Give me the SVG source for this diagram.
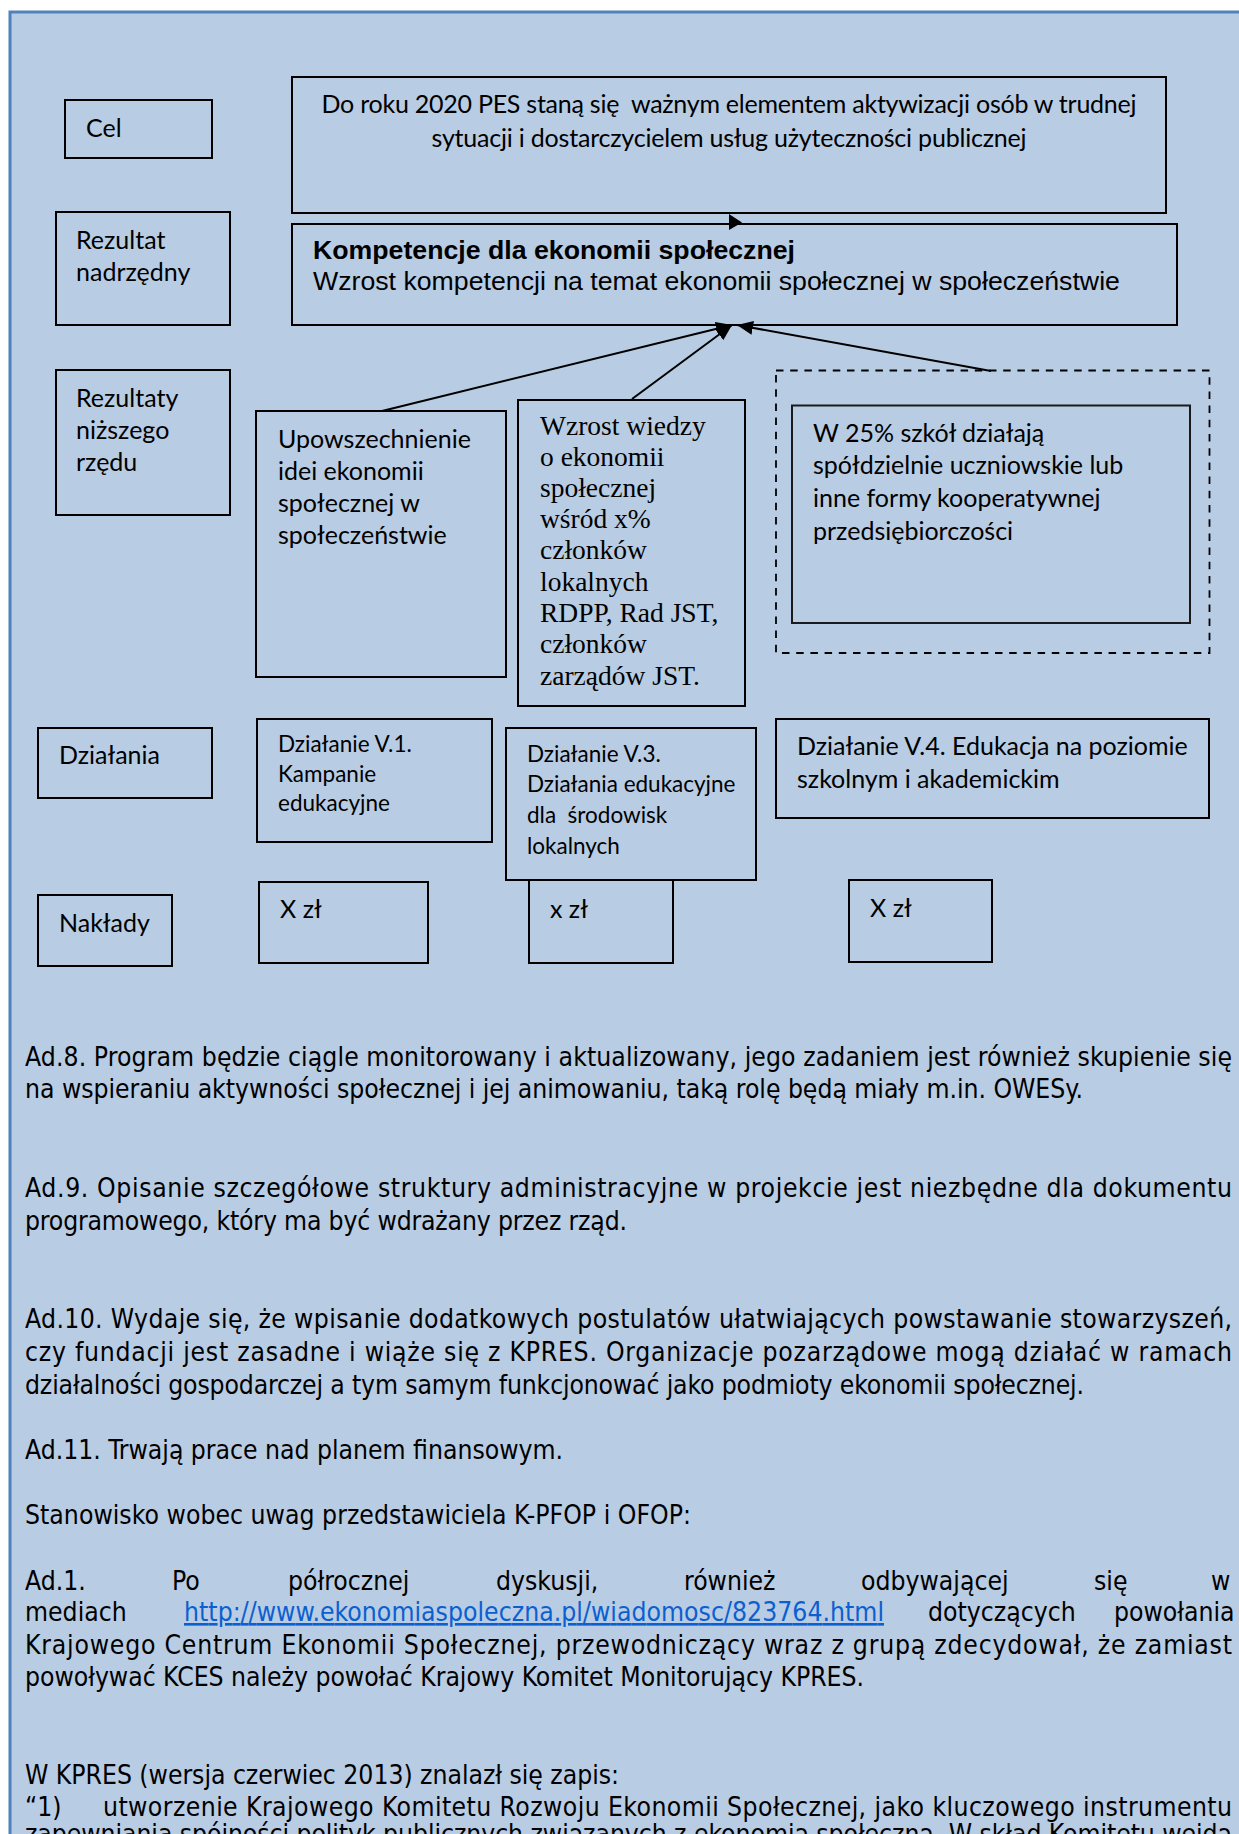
<svg xmlns="http://www.w3.org/2000/svg" width="1239" height="1834" viewBox="0 0 1239 1834">
<style>
.bx{fill:none;stroke:#000;stroke-width:2}
.c{font-family:Lato,"Open Sans","Liberation Sans",sans-serif;font-size:25px;fill:#000}
.cs{font-family:Lato,"Open Sans","Liberation Sans",sans-serif;font-size:22.5px;fill:#000}
.a{font-family:"Liberation Sans",Arial,sans-serif;font-size:26.7px;fill:#000}
.ab{font-family:"Liberation Sans",Arial,sans-serif;font-size:26.7px;font-weight:bold;fill:#000}
.s{font-family:"Liberation Serif","Times New Roman",serif;font-size:27.5px;fill:#000}
.p{font-family:"DejaVu Sans Condensed","DejaVu Sans",sans-serif;font-stretch:condensed;font-size:26.3px;fill:#000}
.lnk{fill:#0b5fd0;text-decoration:underline}
.cn{stroke:#000;stroke-width:2;fill:none}
</style>
<defs>
<marker id="ah" markerUnits="userSpaceOnUse" markerWidth="17" markerHeight="14" refX="16" refY="7" orient="auto">
<path d="M0,0 L16,7 L0,14 z" fill="#000"/>
</marker>
</defs>
<rect x="10" y="12" width="1240" height="1840" fill="#b8cce4" stroke="#4f81bd" stroke-width="3"/>

<g id="cel">
<rect class="bx" x="65" y="100" width="147" height="58"/>
<text class="c" x="86" y="137">Cel</text>
</g>
<g id="goal">
<rect class="bx" x="292" y="77" width="874" height="136"/>
<text class="c" x="729" y="113" text-anchor="middle" xml:space="preserve" textLength="815">Do roku 2020 PES staną się  ważnym elementem aktywizacji osób w trudnej</text>
<text class="c" x="729" y="147" text-anchor="middle" textLength="595">sytuacji i dostarczycielem usług użyteczności publicznej</text>
</g>
<g id="rezultat-nadrzedny">
<rect class="bx" x="56" y="212" width="174" height="113"/>
<text class="c" x="76" y="249">Rezultat</text>
<text class="c" x="76" y="281">nadrzędny</text>
</g>
<g id="kompetencje">
<rect class="bx" x="292" y="224" width="885" height="101"/>
<text class="ab" x="313" y="259">Kompetencje dla ekonomii społecznej</text>
<text class="a" x="313" y="290">Wzrost kompetencji na temat ekonomii społecznej w społeczeństwie</text>
</g>
<g id="rezultaty-nizszego">
<rect class="bx" x="56" y="370" width="174" height="145"/>
<text class="c" x="76" y="407">Rezultaty</text>
<text class="c" x="76" y="439">niższego</text>
<text class="c" x="76" y="471">rzędu</text>
</g>
<g id="upowszechnienie">
<rect class="bx" x="256" y="411" width="250" height="266"/>
<text class="c" x="278" y="448">Upowszechnienie</text>
<text class="c" x="278" y="480">idei ekonomii</text>
<text class="c" x="278" y="512">społecznej w</text>
<text class="c" x="278" y="544">społeczeństwie</text>
</g>
<g id="wzrost-wiedzy">
<rect class="bx" x="518" y="400" width="227" height="306"/>
<text class="s" x="540" y="435">Wzrost wiedzy</text>
<text class="s" x="540" y="466">o ekonomii</text>
<text class="s" x="540" y="497">społecznej</text>
<text class="s" x="540" y="528">wśród x%</text>
<text class="s" x="540" y="559">członków</text>
<text class="s" x="540" y="591">lokalnych</text>
<text class="s" x="540" y="622">RDPP, Rad JST,</text>
<text class="s" x="540" y="653">członków</text>
<text class="s" x="540" y="685">zarządów JST.</text>
</g>
<g id="szkoly">
<rect x="776" y="370.5" width="433.5" height="282.5" fill="none" stroke="#000" stroke-width="1.8" stroke-dasharray="7.5,6.7"/>
<rect x="792" y="405.5" width="398" height="217.5" fill="none" stroke="#1a1a1a" stroke-width="2"/>
<text class="c" x="813" y="442">W 25% szkół działają</text>
<text class="c" x="813" y="474">spółdzielnie uczniowskie lub</text>
<text class="c" x="813" y="507">inne formy kooperatywnej</text>
<text class="c" x="813" y="540">przedsiębiorczości</text>
</g>
<g id="dzialania">
<rect class="bx" x="38" y="728" width="174" height="70"/>
<text class="c" x="59" y="764">Działania</text>
</g>
<g id="dzialanie-v1">
<rect class="bx" x="257" y="719" width="235" height="123"/>
<text class="cs" x="278" y="752">Działanie V.1.</text>
<text class="cs" x="278" y="782">Kampanie</text>
<text class="cs" x="278" y="811">edukacyjne</text>
</g>
<g id="dzialanie-v3">
<rect class="bx" x="506" y="728" width="250" height="152"/>
<text class="cs" x="527" y="762">Działanie V.3.</text>
<text class="cs" x="527" y="792">Działania edukacyjne</text>
<text class="cs" x="527" y="823" xml:space="preserve">dla  środowisk</text>
<text class="cs" x="527" y="854">lokalnych</text>
</g>
<g id="dzialanie-v4">
<rect class="bx" x="776" y="719" width="433" height="99"/>
<text class="c" x="797" y="755">Działanie V.4. Edukacja na poziomie</text>
<text class="c" x="797" y="788">szkolnym i akademickim</text>
</g>
<g id="naklady">
<rect class="bx" x="38" y="895" width="134" height="71"/>
<text class="c" x="59" y="932">Nakłady</text>
</g>
<g id="naklad-1">
<rect class="bx" x="259" y="882" width="169" height="81"/>
<text class="c" x="280" y="918">X zł</text>
</g>
<g id="naklad-2">
<rect class="bx" x="529" y="880" width="144" height="83"/>
<text class="c" x="550" y="918">x zł</text>
</g>
<g id="naklad-3">
<rect class="bx" x="849" y="880" width="143" height="82"/>
<text class="c" x="870" y="917">X zł</text>
</g>

<g id="connectors">
<line class="cn" x1="382" y1="411" x2="732" y2="325" marker-end="url(#ah)"/>
<line class="cn" x1="632" y1="399" x2="732" y2="325" marker-end="url(#ah)"/>
<line class="cn" x1="991" y1="371" x2="737" y2="325" marker-end="url(#ah)"/>
<polygon points="729,214 742,222.5 729,230" fill="#000"/>
</g>

<g id="text">
<text class="p" x="25" y="1066" textLength="1207">Ad.8. Program będzie ciągle monitorowany i aktualizowany, jego zadaniem jest również skupienie się</text>
<text class="p" x="25" y="1098" textLength="1058">na wspieraniu aktywności społecznej i jej animowaniu, taką rolę będą miały m.in. OWESy.</text>
<text class="p" x="25" y="1197" textLength="1207">Ad.9. Opisanie szczegółowe struktury administracyjne w projekcie jest niezbędne dla dokumentu</text>
<text class="p" x="25" y="1230" textLength="602">programowego, który ma być wdrażany przez rząd.</text>
<text class="p" x="25" y="1328" textLength="1207">Ad.10. Wydaje się, że wpisanie dodatkowych postulatów ułatwiających powstawanie stowarzyszeń,</text>
<text class="p" x="25" y="1361" textLength="1207">czy fundacji jest zasadne i wiąże się z KPRES. Organizacje pozarządowe mogą działać w ramach</text>
<text class="p" x="25" y="1394" textLength="1059">działalności gospodarczej a tym samym funkcjonować jako podmioty ekonomii społecznej.</text>
<text class="p" x="25" y="1459" textLength="538">Ad.11. Trwają prace nad planem finansowym.</text>
<text class="p" x="25" y="1524" textLength="666">Stanowisko wobec uwag przedstawiciela K-PFOP i OFOP:</text>
<text class="p" y="1590"><tspan x="25">Ad.1.</tspan><tspan x="172">Po</tspan><tspan x="288">półrocznej</tspan><tspan x="496">dyskusji,</tspan><tspan x="684">również</tspan><tspan x="861">odbywającej</tspan><tspan x="1094">się</tspan><tspan x="1211">w</tspan></text>
<text class="p" y="1621"><tspan x="25">mediach</tspan><tspan x="184" class="lnk" textLength="700">http://www.ekonomiaspoleczna.pl/wiadomosc/823764.html</tspan><tspan x="928">dotyczących</tspan><tspan x="1114">powołania</tspan></text>
<text class="p" x="25" y="1654" textLength="1207">Krajowego Centrum Ekonomii Społecznej, przewodniczący wraz z grupą zdecydował, że zamiast</text>
<text class="p" x="25" y="1686" textLength="839">powoływać KCES należy powołać Krajowy Komitet Monitorujący KPRES.</text>
<text class="p" x="25" y="1784" textLength="594">W KPRES (wersja czerwiec 2013) znalazł się zapis:</text>
<text class="p" y="1816"><tspan x="25">“1)</tspan><tspan x="103" textLength="1129">utworzenie Krajowego Komitetu Rozwoju Ekonomii Społecznej, jako kluczowego instrumentu</tspan></text>
<text class="p" x="25" y="1843" textLength="1207">zapewniania spójności polityk publicznych związanych z ekonomią społeczną. W skład Komitetu wejdą</text>
</g>
</svg>
